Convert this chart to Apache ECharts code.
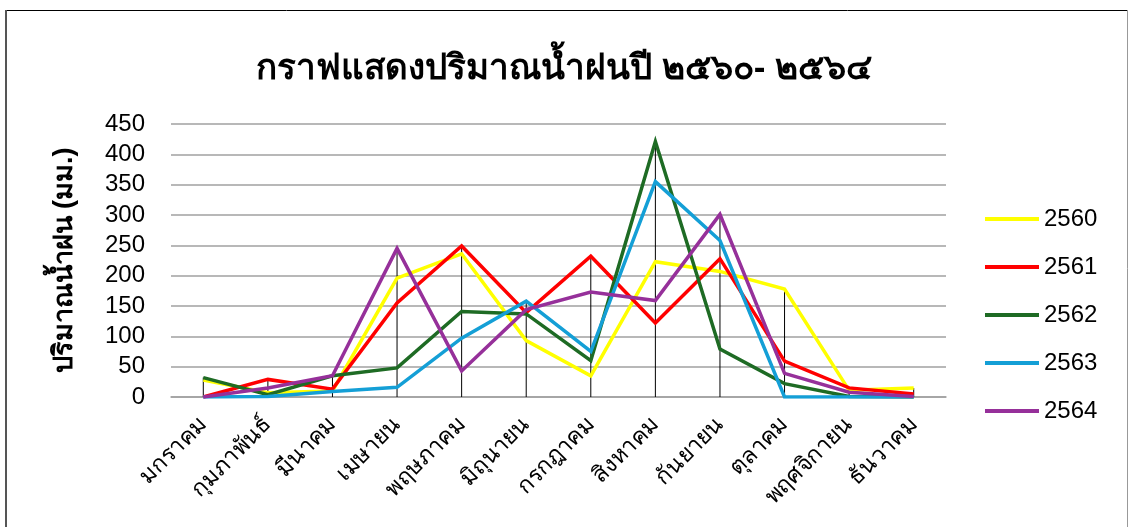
<!DOCTYPE html>
<html>
<head>
<meta charset="utf-8">
<script src="https://cdn.jsdelivr.net/npm/echarts@6/dist/echarts.min.js"></script>
<style>
  html, body { margin: 0; padding: 0; background: #fff; }
  #chart { width: 1128px; height: 527px; }
</style>
</head>
<body>
<div id="chart"></div>
<script>
// rainfall (mm) per month, Thai years 2560-2564
const months = ['มกราคม', 'กุมภาพันธ์', 'มีนาคม', 'เมษายน', 'พฤษภาคม', 'มิถุนายน',
  'กรกฎาคม', 'สิงหาคม', 'กันยายน', 'ตุลาคม', 'พฤศจิกายน', 'ธันวาคม']
const years = ['2560', '2561', '2562', '2563', '2564']
const colors = ['#ffff00', '#ff0000', '#1e6b24', '#149fd6', '#96309a']

const rain2560 = [28, 7, 10, 196, 236, 93, 35, 223, 207, 178, 11, 15]
const rain2561 = [0, 29, 13, 155, 249, 139, 232, 122, 228, 59, 15, 5]
const rain2562 = [32, 4, 35, 48, 141, 137, 60, 421, 79, 22, 1, 0]
const rain2563 = [0, 1, 9, 16, 97, 158, 75, 355, 258, 0, 0, 0]
const rain2564 = [0, 15, 35, 245, 43, 144, 173, 159, 301, 39, 8, 1]

const allRain = [rain2560, rain2561, rain2562, rain2563, rain2564]
// drop lines go from the highest point of each month down to zero
const dropTop = months.map((m, i) => Math.max(...allRain.map(s => s[i])))

const chart = echarts.init(document.getElementById('chart'))

const lineSeries = years.map((y, k) => ({
  name: y,
  type: 'line',
  data: allRain[k],
  symbol: 'none',
  z: 3,
  lineStyle: { width: 3.5, color: colors[k], join: 'miter' },
  itemStyle: { color: colors[k] }
}))

chart.setOption({
  animation: false,
  backgroundColor: '#fff',
  textStyle: { fontFamily: 'Liberation Sans, Arial, sans-serif' },
  title: {
    text: 'กราฟแสดงปริมาณน้ำฝนปี ๒๕๖๐- ๒๕๖๔',
    left: 'center',
    top: 47,
    textStyle: { fontSize: 35, fontWeight: 'bold', color: '#000' }
  },
  legend: {
    data: years,
    orient: 'vertical',
    left: 980,
    top: 202,
    itemGap: 24,
    itemWidth: 54,
    itemHeight: 24,
    icon: 'path://M0,10 L54,10 L54,14 L0,14 Z',
    textStyle: { fontSize: 24, color: '#000' }
  },
  grid: { left: 171, right: 182, top: 124, bottom: 130 },
  xAxis: {
    type: 'category',
    data: months,
    boundaryGap: true,
    axisLine: { lineStyle: { color: '#a0a0a0', width: 1.5 } },
    axisTick: { show: false },
    axisLabel: { rotate: 45, fontSize: 23, color: '#000', margin: 24, interval: 0 }
  },
  yAxis: {
    type: 'value',
    min: 0,
    max: 450,
    interval: 50,
    name: 'ปริมาณน้ำฝน (มม.)',
    nameLocation: 'middle',
    nameGap: 93,
    nameTextStyle: { fontSize: 27, fontWeight: 'bold', color: '#000' },
    axisLine: { show: false },
    axisTick: { show: false },
    axisLabel: { fontSize: 24, color: '#000', margin: 26 },
    splitLine: { lineStyle: { color: '#a0a0a0', width: 1.5 } }
  },
  series: [
    {
      name: 'drop',
      type: 'bar',
      data: dropTop,
      barWidth: 1,
      z: 2,
      itemStyle: { color: '#000' },
      silent: true
    }
  ].concat(lineSeries),
  graphic: [
    { type: 'line', shape: { x1: 6, y1: 10.5, x2: 1128, y2: 10.5 }, style: { stroke: '#000', lineWidth: 1 } },
    { type: 'line', shape: { x1: 6, y1: 10, x2: 6, y2: 527 }, style: { stroke: '#555', lineWidth: 2 } },
    { type: 'line', shape: { x1: 1127.5, y1: 10, x2: 1127.5, y2: 527 }, style: { stroke: '#999', lineWidth: 1 } }
  ]
})
</script>
</body>
</html>
